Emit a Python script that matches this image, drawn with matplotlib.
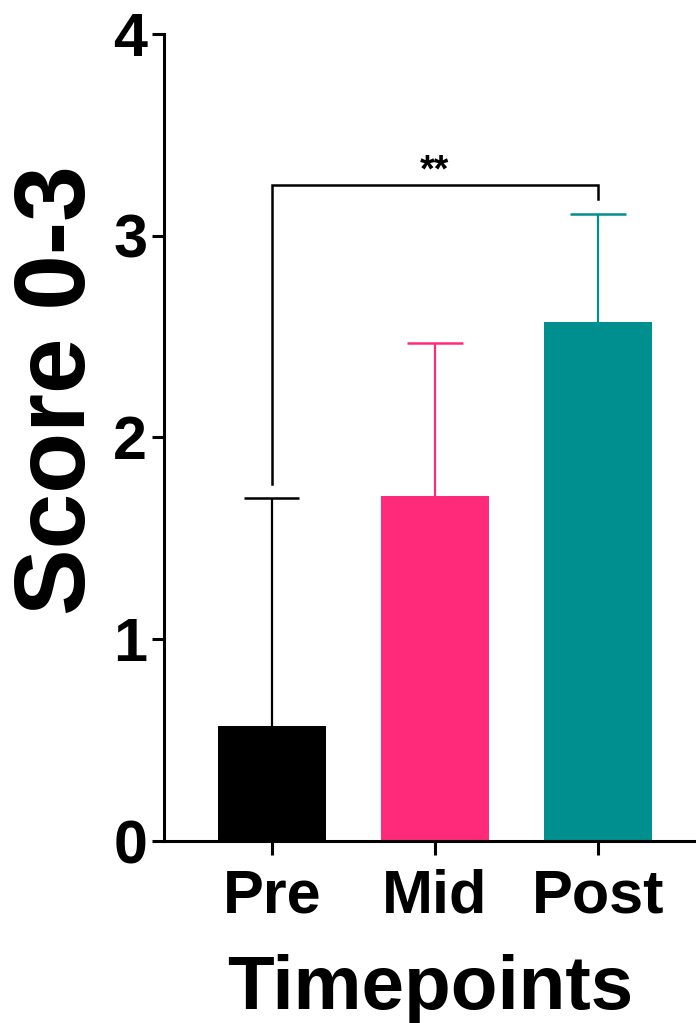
import matplotlib
matplotlib.use("Agg")
import matplotlib.pyplot as plt

plt.rcParams['font.family'] = ['Liberation Sans', 'DejaVu Sans']
plt.rcParams['font.weight'] = 'bold'

groups = ["Pre", "Mid", "Post"]
means = [0.57, 1.71, 2.57]
sds = [1.13, 0.76, 0.54]
colors = ["#000000", "#FF2A7A", "#008F8F"]

# significance bracket between Pre and Post
sig_pair = (0, 2)
sig_label = "**"
bracket_y = 3.25

fig = plt.figure(figsize=(6.96, 10.23), dpi=100)
ax = fig.add_axes([0.2356, 0.1779, 0.7644, 0.7889])

x = list(range(len(groups)))
ax.bar(x, means, width=0.66, color=colors, zorder=2)

# upper-only error bars: stem from inside the bar up to a cap
cap_half = 0.17
for xi, m, s, c in zip(x, means, sds, colors):
    ax.vlines(xi, m * 0.5, m + s, color=c, lw=1.6, zorder=1)
    ax.hlines(m + s, xi - cap_half, xi + cap_half, color=c, lw=1.8, zorder=1)

# bracket legs stop just above each error bar
gap = 0.07
x1, x2 = sig_pair
y1 = means[x1] + sds[x1] + gap
y2 = means[x2] + sds[x2] + gap
ax.plot([x1, x1, x2, x2], [y1, bracket_y, bracket_y, y2], color='black',
        lw=1.8, solid_joinstyle='miter', zorder=3)
ax.text((x1 + x2) / 2, bracket_y - 0.02, sig_label, ha='center', va='bottom',
        fontsize=27, fontweight='bold')

ax.set_xlim(-0.66, 2.6)
ax.set_ylim(0, 4)
ax.set_yticks([0, 1, 2, 3, 4])
ax.set_xticks(x)
ax.set_xticklabels(groups)

for side in ['top', 'right']:
    ax.spines[side].set_visible(False)
for side in ['left', 'bottom']:
    ax.spines[side].set_linewidth(2.2)

ax.tick_params(axis='y', length=9, width=2.2, pad=3, labelsize=44)
ax.tick_params(axis='x', length=10, width=2.2, pad=10, labelsize=44)

ax.set_xlabel("Timepoints", fontsize=55, fontweight='bold', labelpad=20)
fig.text(59 / 696, 1 - 390 / 1023, "Score 0-3", rotation=90, ha='center',
         va='center', fontsize=72, fontweight='bold')

fig.savefig("out.png", dpi=100)
